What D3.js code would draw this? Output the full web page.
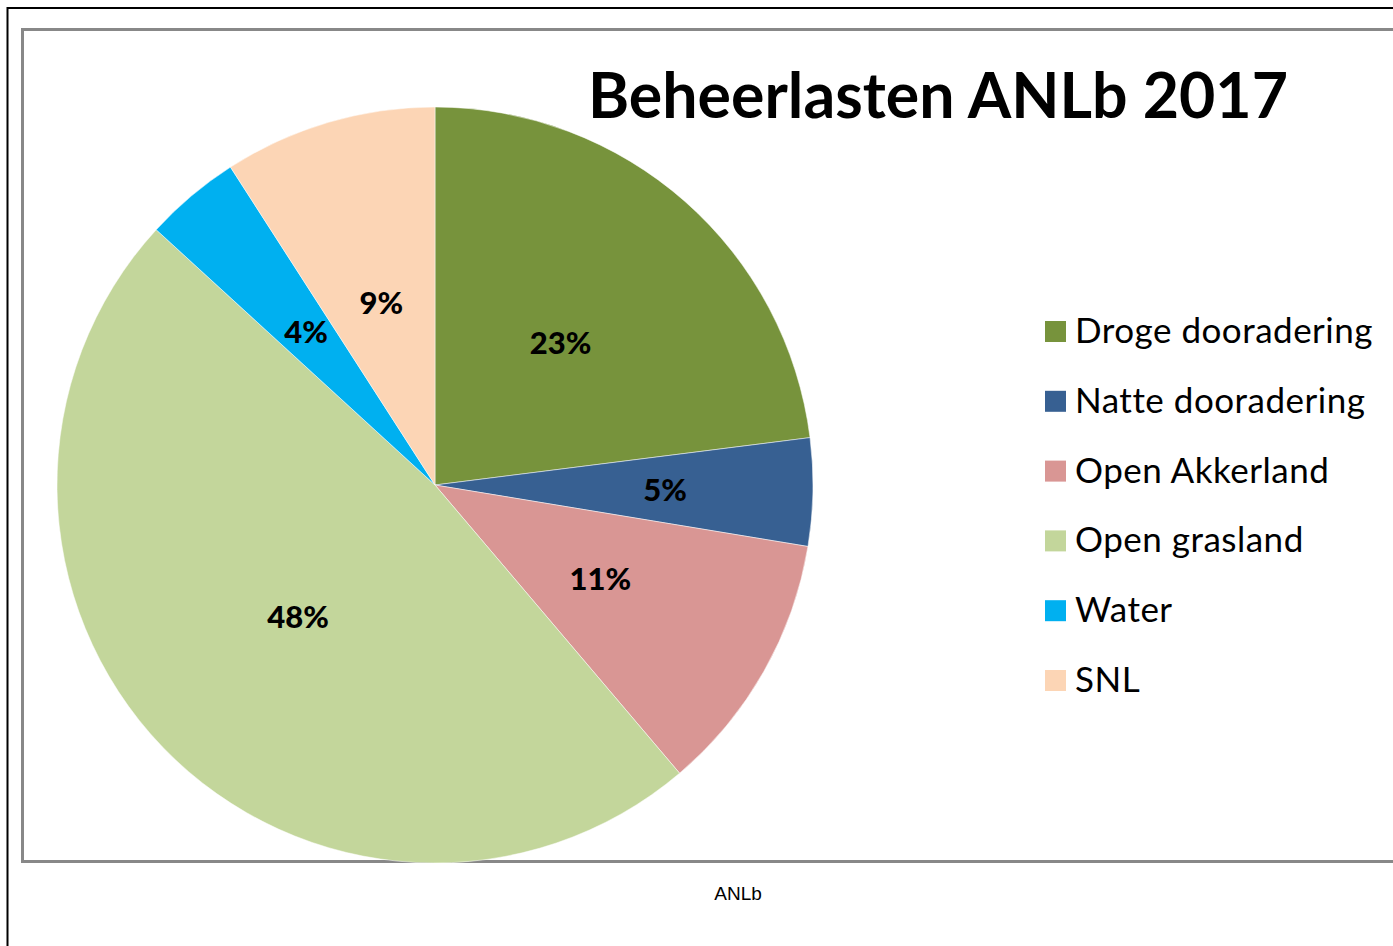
<!DOCTYPE html>
<html>
<head>
<meta charset="utf-8">
<script src="https://cdn.jsdelivr.net/npm/d3@7"></script>
<style>
  body { margin: 0; background: #fff; }
  svg { display: block; }
</style>
</head>
<body>
<script>
var w = 1393;
var h = 946;

// Data
var categories = ["Droge dooradering", "Natte dooradering", "Open Akkerland", "Open grasland", "Water", "SNL"];
var values = [23.0, 4.6, 11.2, 48.0, 4.1, 9.1];
var colors = ["#77933C", "#376092", "#D99694", "#C3D69B", "#00B0F0", "#FCD5B5"];
var title = "Beheerlasten ANLb 2017";
var caption = "ANLb";

var cx = 435;
var cy = 485;
var radius = 378;

var svg = d3.select("body")
  .append("svg")
  .attr("width", w)
  .attr("height", h);

// outer black frame
svg.append("rect")
  .attr("x", 7.5)
  .attr("y", 8)
  .attr("width", w + 20)
  .attr("height", h + 20)
  .attr("fill", "none")
  .attr("stroke", "#000")
  .attr("stroke-width", 2);

// gray chart frame
svg.append("rect")
  .attr("x", 22.5)
  .attr("y", 29.5)
  .attr("width", w)
  .attr("height", 832)
  .attr("fill", "#fff")
  .attr("stroke", "#888")
  .attr("stroke-width", 3);

var color = d3.scaleOrdinal()
  .domain(categories)
  .range(colors);

var pie = d3.pie()
  .sort(null)
  .value(function(d) { return d.value; });

var data = categories.map(function(c, i) {
  return { name: c, value: values[i] };
});
var arcs = pie(data);
var total = d3.sum(values);

var arc = d3.arc()
  .innerRadius(0)
  .outerRadius(radius);

var g = svg.append("g")
  .attr("transform", "translate(" + cx + "," + cy + ")");

g.selectAll("path")
  .data(arcs)
  .enter()
  .append("path")
  .attr("d", arc)
  .attr("fill", function(d) { return color(d.data.name); })
  .attr("stroke", "#fff")
  .attr("stroke-width", 0.5);

// percentage labels (the thin 5% slice has its label pushed outward)
g.selectAll("text")
  .data(arcs)
  .enter()
  .append("text")
  .attr("transform", function(d) {
    var r = d.index === 1 ? 230 : (d.index === 4 ? 200 : 190);
    var a = (d.startAngle + d.endAngle) / 2;
    return "translate(" + (Math.sin(a) * r) + "," + (-Math.cos(a) * r) + ")";
  })
  .attr("text-anchor", "middle")
  .attr("dy", "0.36em")
  .attr("font-family", "Lato, sans-serif")
  .attr("font-weight", "900")
  .attr("font-size", 31)
  .attr("fill", "#000")
  .text(function(d) { return Math.round(d.data.value / total * 100) + "%"; });

// title
var t = svg.append("text")
  .attr("x", 588)
  .attr("y", 118)
  .attr("font-family", "Lato, sans-serif")
  .attr("font-weight", "bold")
  .attr("font-size", 64)
  .attr("fill", "#000")
  .text(title);
var tl = t.node().getComputedTextLength();
if (tl > 700) t.attr("textLength", 700).attr("lengthAdjust", "spacingAndGlyphs");

// legend
var legend = svg.append("g")
  .attr("transform", "translate(1045,321)");

var item = legend.selectAll("g")
  .data(categories)
  .enter()
  .append("g")
  .attr("transform", function(d, i) { return "translate(0," + (i * 69.8) + ")"; });

item.append("rect")
  .attr("width", 21)
  .attr("height", 21)
  .attr("fill", function(d) { return color(d); });

item.append("text")
  .attr("x", 30)
  .attr("y", 22)
  .attr("font-family", "Lato, sans-serif")
  .attr("font-size", 35)
  .attr("letter-spacing", 0.5)
  .attr("fill", "#000")
  .text(function(d) { return d; });

// caption
svg.append("text")
  .attr("x", 738)
  .attr("y", 900)
  .attr("text-anchor", "middle")
  .attr("font-family", "Liberation Sans, Arial, sans-serif")
  .attr("font-size", 19)
  .attr("fill", "#000")
  .text(caption);
</script>
</body>
</html>
